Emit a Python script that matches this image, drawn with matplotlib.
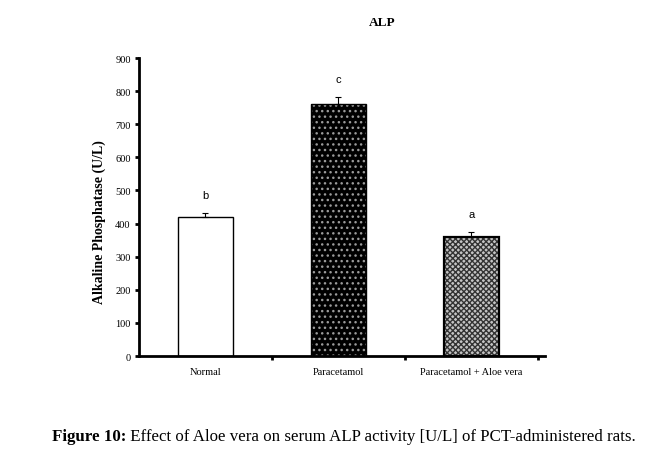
import numpy as np
from matplotlib import pyplot as plt

# dane
groups = ['Normal', 'Paracetamol', 'Paracetamol + Aloe vera']
alp_mean = [420, 761, 359]
alp_err = [12, 21, 15]
letters = ['b', 'c', 'a']
y_ticks = [0, 100, 200, 300, 400, 500, 600, 700, 800, 900]

plt.rcParams['font.family'] = 'Liberation Serif'

fig = plt.figure(figsize=(6.62, 4.64), dpi=100)
ax = fig.add_axes([0.21, 0.2306, 0.613, 0.6422])

x = np.arange(len(groups))
w = 0.41

# Normal - biały słupek
ax.bar(x[0], alp_mean[0], w, color='white', edgecolor='black', linewidth=1.0, zorder=2)

# Paracetamol - czarny z białymi kropkami
ax.bar(x[1], alp_mean[1], w, color='black', edgecolor='#9a9a9a', hatch='...', linewidth=0, zorder=2)
ax.bar(x[1], alp_mean[1], w, fill=False, edgecolor='black', linewidth=1.0, zorder=3)

# Paracetamol + Aloe vera - szara kratka
ax.bar(x[2], alp_mean[2], w, color='#c4c4c4', edgecolor='#333333', hatch='xxxxxx', linewidth=0, zorder=2)
ax.bar(x[2], alp_mean[2], w, fill=False, edgecolor='black', linewidth=1.6, zorder=3)

# słupki błędów (tylko w górę)
ax.errorbar(x, alp_mean, yerr=[np.zeros(len(x)), alp_err], fmt='none',
            ecolor='black', elinewidth=0.8, capsize=2.5, capthick=0.8, zorder=4)

# litery istotności
for xi, m, e, l in zip(x, alp_mean, alp_err, letters):
    ax.text(xi, m + e + 40, l, ha='center', va='bottom', fontsize=8,
            family='Liberation Sans')

ax.set_xlim(-0.5, 2.553)
ax.set_ylim(0, 900)
ax.set_yticks(y_ticks)
ax.set_yticklabels([str(v) for v in y_ticks], fontsize=7.5)
ax.set_xticks([0.5, 1.5, 2.5])
ax.set_xticklabels([])
ax.set_xticks(x, minor=True)
ax.set_xticklabels(groups, minor=True, fontsize=7.5)
ax.tick_params(axis='x', which='minor', length=0, pad=8)
ax.tick_params(axis='x', which='major', direction='out', length=3, width=2)
ax.tick_params(axis='y', direction='out', length=3, width=2, pad=3)

for s in ['top', 'right']:
    ax.spines[s].set_visible(False)
ax.spines['left'].set_linewidth(2)
ax.spines['bottom'].set_linewidth(2)

ax.set_ylabel('Alkaline Phosphatase (U/L)', fontsize=10, fontweight='bold')
ax.yaxis.set_label_coords(-0.081, 0.453)

fig.text(382 / 662, 1 - 23 / 464, 'ALP', ha='center', va='center', fontsize=9.5, fontweight='bold')

# podpis rysunku
t1 = fig.text(52 / 662, 1 - 437 / 464, 'Figure 10:', ha='left', va='center',
              fontsize=12.2, fontweight='bold')
ax.annotate(' Effect of Aloe vera on serum ALP activity [U/L] of PCT-administered rats.',
            xy=(1, 0.5), xycoords=t1, ha='left', va='center', fontsize=12.2,
            annotation_clip=False)

plt.savefig('out.png', dpi=100)
